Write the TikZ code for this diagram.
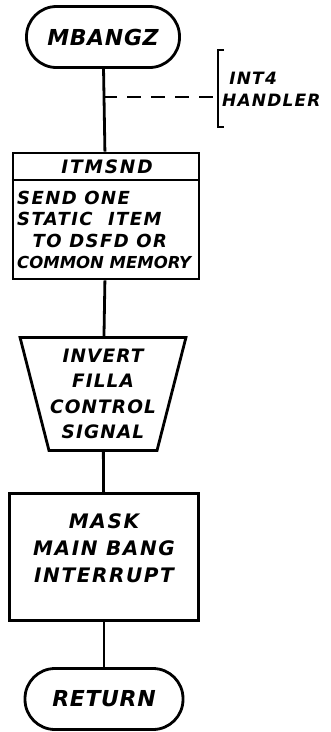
\documentclass[tikz,border=0pt]{standalone}
\usepackage{fontspec}
\setmainfont{DejaVu Sans}
\usetikzlibrary{shapes.geometric}
\newcommand{\hsz}[2]{\fontsize{#1}{#2}\selectfont\bfseries\itshape}
\newcommand{\wide}[2]{{\addfontfeature{LetterSpace=#1}#2}}
\begin{document}
\begin{tikzpicture}[x=1pt,y=-1pt,
  ln/.style={line width=2.8pt},
  term/.style={draw,ln,rounded corners=30pt,minimum width=153pt,minimum height=61pt,font=\hsz{22}{24}\addfontfeature{LetterSpace=3}},
  procbox/.style={draw,ln,minimum width=189pt,minimum height=127pt},
  txt/.style={align=center,inner sep=0pt},
  manual/.style={draw,ln,trapezium,trapezium stretches=true,shape border rotate=180,trapezium angle=75,minimum width=166pt,minimum height=113pt}]
\useasboundingbox (0,0) rectangle (331,732);
\node[term] (start) at (103,37) {MBANGZ};
\node[procbox,minimum width=186pt,minimum height=126pt] (itm) at (106,216) {};
\coordinate (hl) at (0,180);
\draw[ln] (itm.west |- hl) -- (itm.east |- hl);
\node[txt,font=\hsz{18.5}{20}\addfontfeature{LetterSpace=10}] (itmh) at (107,167) {ITMSND};
\node[txt,align=left,anchor=west,font=\hsz{18}{21.5}\addfontfeature{LetterSpace=8}] (itmt) at (17,230) {SEND ONE\\STATIC\ \ ITEM\\\ \ TO DSFD OR\\{\fontsize{16.5}{21.5}\selectfont\addfontfeature{LetterSpace=0}COMMON MEMORY}};
\node[manual] (inv) at (103,394) {};
\node[txt,font=\hsz{18.5}{25.5}\addfontfeature{LetterSpace=6}] (invt) at (103,394) {INVERT\\FILLA\\CONTROL\\SIGNAL};
\node[procbox] (mask) at (104,557) {};
\node[txt,font=\hsz{20}{27}\addfontfeature{LetterSpace=8}] (maskt) at (104,548) {MASK\\MAIN BANG\\INTERRUPT};
\node[term,minimum width=158pt] (ret) at (104,699) {RETURN};
\draw[ln] (start) -- (itm);
\draw[ln] (itm) -- (inv);
\draw[ln] (inv) -- (mask);
\draw[ln] (mask) -- (ret);
% annotation
\coordinate (j) at (start.south |- 0,97);
\coordinate (br) at (218,97);
\draw[line width=2.4pt,dash pattern=on 14pt off 10pt] (j) -- (br);
\draw[line width=2.4pt] (224,50) -- (218,50) -- (218,127) -- (224,127);
\node[anchor=west,align=left,inner sep=0pt,font=\hsz{17}{22}\addfontfeature{LetterSpace=7}] (ann) at (222,89) {\ INT4\\HANDLER};
\end{tikzpicture}
\end{document}
